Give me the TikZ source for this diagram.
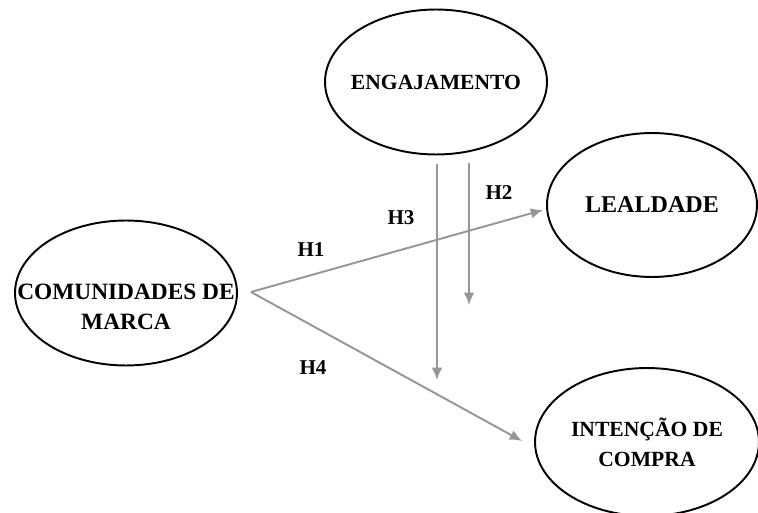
\documentclass[tikz,border=0pt]{standalone}
\usepackage{fontspec}
\setmainfont{Liberation Serif}
\usetikzlibrary{shapes.geometric,arrows.meta}
\begin{document}
\begin{tikzpicture}[x=0.02cm, y=-0.02cm,
    construct/.style={draw, ellipse, line width=1.1pt, inner sep=0pt},
    constext/.style={align=center, inner sep=0pt},
    hyparrow/.style={draw=arrowgray, line width=1.1pt, -{Latex[length=7pt, width=6pt]}},
    hyplabel/.style={font=\bfseries\fontsize{12}{14}\selectfont}]
\definecolor{arrowgray}{RGB}{150,150,150}
\useasboundingbox (0,0) rectangle (758,513);

% Draw the constructs
\node[construct, minimum width=4.44cm, minimum height=2.9cm] (engaj) at (436, 82) {};
\node[constext, font=\bfseries\fontsize{12.3}{15}\selectfont] (engajtext) at (engaj) {ENGAJAMENTO};
\node[construct, minimum width=4.2cm, minimum height=2.88cm] (leal) at (652, 205) {};
\node[constext, font=\bfseries\fontsize{13.7}{16}\selectfont] (lealtext) at (leal) {LEALDADE};
\node[construct, minimum width=4.44cm, minimum height=2.9cm] (comun) at (126, 293) {};
\node[constext, font=\bfseries\fontsize{13.3}{17}\selectfont] (comuntext) at (126, 307) {COMUNIDADES DE\\MARCA};
\node[construct, minimum width=4.48cm, minimum height=2.96cm] (inten) at (647, 442) {};
\node[constext, font=\bfseries\fontsize{12.3}{17}\selectfont] (intentext) at (inten) {INTENÇÃO DE\\COMPRA};

% Arrow ends
\coordinate (orig) at (251, 292);
\coordinate (h1end) at (543, 210);
\coordinate (h4end) at (522, 441);
\coordinate (h3start) at (437, 164);
\coordinate (h3end) at (437, 380);
\coordinate (h2start) at (469, 163);
\coordinate (h2end) at (469, 305);

% Draw the hypotheses
\draw[hyparrow] (orig) -- (h1end);
\draw[hyparrow] (orig) -- (h4end);
\draw[hyparrow] (h3start) -- (h3end);
\draw[hyparrow] (h2start) -- (h2end);

\node[hyplabel] (lh1) at (311, 250) {H1};
\node[hyplabel] (lh2) at (499, 193) {H2};
\node[hyplabel] (lh3) at (401, 218) {H3};
\node[hyplabel] (lh4) at (313, 368) {H4};
\end{tikzpicture}
\end{document}
